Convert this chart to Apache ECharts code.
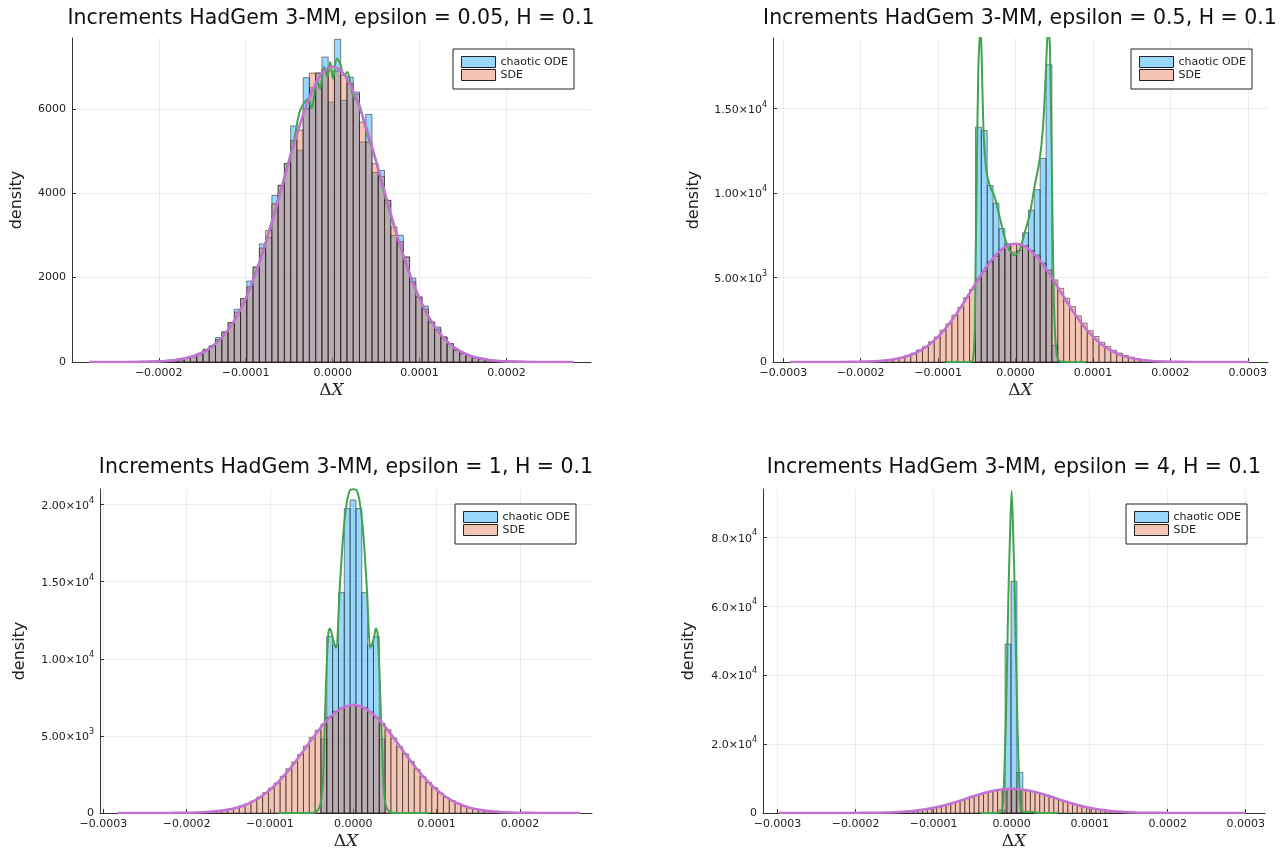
<!DOCTYPE html>
<html>
<head>
<meta charset="utf-8">
<script src="https://cdn.jsdelivr.net/npm/echarts@6.0.0/dist/echarts.min.js"></script>
<style>
html,body{margin:0;padding:0;background:#ffffff;}
#chart{width:1285px;height:854px;}
</style>
</head>
<body>
<div id="chart"></div>
<script>
// ---------------- texts ----------------
const panelTitles = [
  'Increments HadGem 3-MM, epsilon = 0.05, H = 0.1',
  'Increments HadGem 3-MM, epsilon = 0.5, H = 0.1',
  'Increments HadGem 3-MM, epsilon = 1, H = 0.1',
  'Increments HadGem 3-MM, epsilon = 4, H = 0.1'
];
const legendNames = ['chaotic ODE', 'SDE'];
const yAxisTitle = 'density';

// ---------------- ticks / extents ----------------
const p1XTicks = [-0.0002, -0.0001, 0, 0.0001, 0.0002];
const p2XTicks = [-0.0003, -0.0002, -0.0001, 0, 0.0001, 0.0002, 0.0003];
const p3XTicks = [-0.0003, -0.0002, -0.0001, 0, 0.0001, 0.0002];
const p4XTicks = [-0.0003, -0.0002, -0.0001, 0, 0.0001, 0.0002, 0.0003];
const p1YTicks = [0, 2000, 4000, 6000];
const p2YTicks = [0, 5000, 10000, 15000];
const p3YTicks = [0, 5000, 10000, 15000, 20000];
const p4YTicks = [0, 20000, 40000, 60000, 80000];
const xExtents = [[-0.0002998, 0.0002972], [-0.0003133, 0.0003261], [-0.000304, 0.0002865], [-0.0003186, 0.0003247]];
const yMaxima = [7680, 19180, 21010, 93990];

// ---------------- panel 1 : epsilon = 0.05 ----------------
const p1OdeStart = -0.0002283, p1OdeWidth = 0.0000072;
const p1Ode = [1,2,4,7,12,20,35,55,90,130,198,300,380,578,712,933,1249,1502,1920,2252,2800,2950,3950,4188,4702,5593,5020,6740,6500,6850,7229,6160,7648,6200,6755,6400,5214,5870,4490,4543,3832,3000,3003,2489,1991,1541,1327,948,830,593,436,277,198,150,100,65,40,25,15,9,5,3,1,1];
const p1SdeStart = -0.0002283, p1SdeWidth = 0.0000072;
const p1Sde = [1,2,3,6,11,20,33,52,85,125,190,290,380,530,712,933,1180,1502,1780,2252,2700,3120,3750,4188,4702,5250,5500,6005,6850,6850,6930,6900,6900,6800,6600,6350,5688,5214,4700,4400,3832,3200,2850,2489,1900,1541,1250,948,780,593,436,277,198,145,95,60,38,24,14,8,5,3,1,1];
const p1KdeOdeX = [-0.00028,-0.00026,-0.00022,-0.0002,-0.00018,-0.00016,-0.00014,-0.00012,-0.0001,-0.00008,-0.00006,-0.00005,-0.0000437,-0.0000374,-0.0000278,-0.000024,-0.0000182,-0.0000144,-0.0000098,-0.000006,-0.0000029,0.0000005,0.0000048,0.0000086,0.0000132,0.000017,0.000021,0.000024,0.0000297,0.0000355,0.00004,0.00005,0.00006,0.00008,0.0001,0.00012,0.00014,0.00016,0.00018,0.0002,0.00022,0.00026,0.000277];
const p1KdeOdeY = [0,0,4,16,52,145,355,770,1510,2650,4060,4800,5330,5965,6242,6005,6676,6479,6992,6755,7110,6716,7190,7072,6795,6873,6558,6282,6162,5728,5400,4750,3950,2600,1500,760,345,140,50,15,4,0,0];

// ---------------- panel 2 : epsilon = 0.5 ----------------
const p2OdeStart = -0.0000518, p2OdeWidth = 0.0000076;
const p2Ode = [13900,13700,10450,9400,7900,7000,6500,6600,7650,8990,10200,12050,17600,990];
const p2SdeStart = -0.0002494, p2SdeWidth = 0.0000076;
const p2Sde = [1,2,3,5,7,12,19,30,45,64,99,138,205,277,395,520,712,905,1195,1480,1880,2260,2780,3230,3820,4300,4920,5370,5930,6260,6660,6830,7010,6960,6890,6600,6330,5850,5440,4860,4360,3770,3280,2730,2300,1850,1510,1170,925,695,530,385,285,198,143,95,67,43,29,19,12,7,5,3,2,1];
const p2KdeOdeX = [-0.00009,-0.00007,-0.000058,-0.000055,-0.000053,-0.0000516,-0.00005,-0.000048,-0.000046,-0.000045,-0.000043,-0.000041,-0.0000378,-0.0000335,-0.0000271,-0.0000206,-0.0000142,-0.0000077,-0.0000013,0.0000052,0.0000116,0.0000181,0.0000245,0.000031,0.0000352,0.0000387,0.0000412,0.0000428,0.0000445,0.0000468,0.0000494,0.0000525,0.0000568,0.00007,0.00009];
const p2KdeOdeY = [0,0,20,150,1500,5500,11500,17500,19400,19600,16500,13300,11360,10470,9780,8590,7400,6620,6320,6620,7620,8690,10370,11950,13730,16690,19300,19600,18500,11770,3850,690,50,0,0];

// ---------------- panel 3 : epsilon = 1 ----------------
const p3OdeStart = -0.0000388, p3OdeWidth = 0.000007;
const p3Ode = [4800,11450,10900,14290,19740,20300,19740,14290,10900,11450,4800];
const p3SdeStart = -0.0002418, p3SdeWidth = 0.000007;
const p3Sde = [1,2,3,5,8,13,19,29,44,64,95,132,184,248,348,478,615,790,1026,1320,1611,1950,2380,2870,3316,3800,4338,4900,5357,5760,6221,6600,6801,6910,7040,6952,6840,6553,6180,5817,5400,4859,4300,3836,3350,2833,2350,1972,1640,1296,1010,801,630,466,340,255,184,132,92,64,44,29,19,13,8,5,3,2,1,1];
const p3KdeOdeX = [-0.00009,-0.000052,-0.000046,-0.00004,-0.0000368,-0.0000352,-0.000034,-0.0000328,-0.0000312,-0.0000296,-0.000028,-0.0000245,-0.0000208,-0.000016,-0.000012,-0.000008,-0.000004,0,0.000004,0.000008,0.000012,0.000016,0.0000208,0.0000245,0.0000272,0.000029,0.0000304,0.000032,0.0000332,0.0000348,0.0000364,0.0000392,0.0000448,0.000052,0.00009];
const p3KdeOdeY = [0,0,30,457,1765,3940,6120,8300,10480,11790,11960,11300,10700,14840,18100,20065,20935,21000,20935,20065,18100,14840,10700,11300,11960,11700,10480,8300,6120,3940,1765,457,30,0,0];

// ---------------- panel 4 : epsilon = 4 ----------------
const p4OdeStart = -0.000016, p4OdeWidth = 0.0000076;
const p4Ode = [950,49000,67200,11800,300];
const p4SdeStart = -0.000252, p4SdeWidth = 0.000006;
const p4Sde = [0,1,1,2,3,4,6,10,14,21,28,41,55,80,104,146,188,258,322,431,534,695,840,1068,1270,1572,1825,2210,2520,2975,3330,3840,4210,4730,5090,5580,5880,6290,6510,6800,6880,7030,
               6960,6930,6730,6570,6220,5950,5500,5160,4660,4280,3770,3390,2910,2580,2150,1870,1530,1300,1035,865,672,550,416,336,246,195,139,108,76,57,39,30,19,14,9,7,4,3,2,1,1,0];
const p4KdeOdeX = [-0.00004,-0.00002,-0.000015,-0.0000128,-0.0000107,-0.0000073,-0.0000043,-0.0000021,0,0.0000021,0.0000043,0.0000073,0.0000107,0.000013,0.000016,0.000024,0.000032,0.00004,0.00006];
const p4KdeOdeY = [0,0,100,600,3350,27460,61160,80430,93400,80430,61160,27460,3350,600,300,350,100,0,0];

// ---------------- SDE density curve (same in all panels) ----------------
const kdeSdeX = [-0.0003,-0.00028,-0.00026,-0.00024,-0.00022,-0.0002,-0.00018,-0.00016,-0.00015,-0.00014,-0.00013,-0.00012,-0.00011,-0.0001,-0.00009,-0.00008,-0.00007,-0.00006,-0.00005,-0.00004,-0.00003,-0.00002,-0.00001,0,0.00001,0.00002,0.00003,0.00004,0.00005,0.00006,0.00007,0.00008,0.00009,0.0001,0.00011,0.00012,0.00013,0.00014,0.00015,0.00016,0.00018,0.0002,0.00022,0.00024,0.00026,0.00028,0.0003];
const kdeSdeY = [0,0,0,1,4,15,48,136,220,343,520,764,1087,1503,2012,2615,3292,4022,4764,5471,6095,6582,6893,7000,6893,6582,6095,5471,4764,4022,3292,2615,2012,1503,1087,764,520,343,220,136,48,15,4,1,0,0,0];
const kdeSdeRanges = [[-0.00028, 0.000277], [-0.000291, 0.000302], [-0.000283, 0.000272], [-0.000298, 0.0003]];

// ---------------- styles ----------------
const odeFill = 'rgba(0,154,250,0.4)';
const sdeFill = 'rgba(227,111,71,0.4)';
const odeLegendFill = 'rgb(153,215,253)';
const sdeLegendFill = 'rgb(244,197,181)';
const barStroke = 'rgba(20,20,20,0.5)';
const greenLine = '#3ea44e';
const purpleLine = '#c371d2';
const FONT = 'DejaVu Sans';

const layout = [
  {grid: {left: 72, top: 38, width: 519, height: 324}, titleX: 331, titleY: 19, legendRight: 711, legendTop: 49, yGap: 47, yFmt: 'plain'},
  {grid: {left: 773, top: 38, width: 495, height: 324}, titleX: 1020, titleY: 19, legendRight: 33, legendTop: 49, yGap: 71, yFmt: 'sci2'},
  {grid: {left: 100, top: 489, width: 492, height: 324}, titleX: 346, titleY: 468, legendRight: 709, legendTop: 504, yGap: 72, yFmt: 'sci2'},
  {grid: {left: 763, top: 489, width: 502, height: 324}, titleX: 1014, titleY: 468, legendRight: 38, legendTop: 504, yGap: 66, yFmt: 'sci1'}
];

const panelData = [
  {xt: p1XTicks, yt: p1YTicks, odeS: p1OdeStart, odeW: p1OdeWidth, ode: p1Ode, sdeS: p1SdeStart, sdeW: p1SdeWidth, sde: p1Sde, kx: p1KdeOdeX, ky: p1KdeOdeY},
  {xt: p2XTicks, yt: p2YTicks, odeS: p2OdeStart, odeW: p2OdeWidth, ode: p2Ode, sdeS: p2SdeStart, sdeW: p2SdeWidth, sde: p2Sde, kx: p2KdeOdeX, ky: p2KdeOdeY},
  {xt: p3XTicks, yt: p3YTicks, odeS: p3OdeStart, odeW: p3OdeWidth, ode: p3Ode, sdeS: p3SdeStart, sdeW: p3SdeWidth, sde: p3Sde, kx: p3KdeOdeX, ky: p3KdeOdeY},
  {xt: p4XTicks, yt: p4YTicks, odeS: p4OdeStart, odeW: p4OdeWidth, ode: p4Ode, sdeS: p4SdeStart, sdeW: p4SdeWidth, sde: p4Sde, kx: p4KdeOdeX, ky: p4KdeOdeY}
];

function binRows(start, width, heights) {
  return heights.map((h, i) => [start + i * width, start + (i + 1) * width, h]);
}
function pairs(xs, ys) { return xs.map((x, i) => [x, ys[i]]); }
function rangePairs(xs, ys, lo, hi) {
  const out = [[lo, 0]];
  xs.forEach((x, i) => { if (x > lo && x < hi) out.push([x, ys[i]]); });
  out.push([hi, 0]);
  return out;
}
function histRender(fill) {
  return function (params, api) {
    const h = api.value(2);
    if (!(h > 0)) return null;
    const a = api.coord([api.value(0), h]);
    const b = api.coord([api.value(1), 0]);
    const cs = params.coordSys;
    const shape = echarts.graphic.clipRectByRect(
      {x: a[0], y: a[1], width: b[0] - a[0], height: b[1] - a[1]},
      {x: cs.x, y: cs.y, width: cs.width, height: cs.height});
    if (!shape) return null;
    return {type: 'rect', shape: shape, style: {fill: fill, stroke: barStroke, lineWidth: 1}};
  };
}
function xFmt(v) {
  const s = Math.abs(v).toFixed(4);
  return (v < -1e-12 ? '\u2212' : '') + s;
}
function yFmtFactory(kind) {
  return function (v) {
    if (Math.abs(v) < 1e-9) return '0';
    if (kind === 'plain') return String(Math.round(v));
    const e = Math.floor(Math.log10(v) + 1e-9);
    const m = v / Math.pow(10, e);
    return '{m|' + m.toFixed(kind === 'sci2' ? 2 : 1) + '×10}{e|' + e + '}';
  };
}

const grids = [], xAxes = [], yAxes = [], series = [], legends = [], graphics = [];
layout.forEach((L, i) => {
  const P = panelData[i];
  grids.push(Object.assign({containLabel: false}, L.grid));
  xAxes.push({
    type: 'value', gridIndex: i, min: xExtents[i][0], max: xExtents[i][1],
    name: '{d|Δ}{x|X}', nameLocation: 'middle', nameGap: 20,
    nameTextStyle: {rich: {
      d: {fontFamily: 'DejaVu Serif', fontSize: 17, color: '#222'},
      x: {fontFamily: 'DejaVu Serif', fontStyle: 'italic', fontSize: 17, color: '#222'}
    }},
    axisLine: {show: true, onZero: false, lineStyle: {color: '#333', width: 1}},
    axisTick: {show: true, inside: true, length: 4, customValues: P.xt, lineStyle: {color: '#333'}},
    axisLabel: {customValues: P.xt, formatter: xFmt, fontSize: 11, color: '#222', fontFamily: FONT, margin: 6},
    splitLine: {show: true, lineStyle: {color: 'rgba(0,0,0,0.065)', width: 1}}
  });
  yAxes.push({
    type: 'value', gridIndex: i, min: 0, max: yMaxima[i],
    name: yAxisTitle, nameLocation: 'middle', nameGap: L.yGap,
    nameTextStyle: {fontSize: 16, color: '#222', fontFamily: FONT},
    axisLine: {show: true, onZero: false, lineStyle: {color: '#333', width: 1}},
    axisTick: {show: true, inside: true, length: 4, customValues: P.yt, lineStyle: {color: '#333'}},
    axisLabel: {customValues: P.yt, formatter: yFmtFactory(L.yFmt), fontSize: 11, color: '#222', fontFamily: FONT, margin: 6,
      rich: {
        m: {fontSize: 11, color: '#222', fontFamily: FONT, lineHeight: 14, verticalAlign: 'bottom'},
        e: {fontSize: 8, color: '#222', fontFamily: FONT, lineHeight: 8, verticalAlign: 'bottom', padding: [0, 0, 7, 0]}
      }},
    splitLine: {show: true, lineStyle: {color: 'rgba(0,0,0,0.065)', width: 1}}
  });
  series.push({
    type: 'custom', name: legendNames[0], xAxisIndex: i, yAxisIndex: i,
    renderItem: histRender(odeFill), data: binRows(P.odeS, P.odeW, P.ode),
    encode: {x: [0, 1], y: 2}, itemStyle: {color: odeLegendFill}, silent: true, z: 2
  });
  series.push({
    type: 'custom', name: legendNames[1], xAxisIndex: i, yAxisIndex: i,
    renderItem: histRender(sdeFill), data: binRows(P.sdeS, P.sdeW, P.sde),
    encode: {x: [0, 1], y: 2}, itemStyle: {color: sdeLegendFill}, silent: true, z: 2
  });
  series.push({
    type: 'line', name: 'ODE density', xAxisIndex: i, yAxisIndex: i,
    data: pairs(P.kx, P.ky), showSymbol: false, smooth: 0.3, clip: true,
    lineStyle: {color: greenLine, width: 2}, itemStyle: {color: greenLine}, z: 3, silent: true
  });
  series.push({
    type: 'line', name: 'SDE density', xAxisIndex: i, yAxisIndex: i,
    data: rangePairs(kdeSdeX, kdeSdeY, kdeSdeRanges[i][0], kdeSdeRanges[i][1]),
    showSymbol: false, smooth: 0.4, clip: true,
    lineStyle: {color: purpleLine, width: 2.6}, itemStyle: {color: purpleLine}, z: 4, silent: true
  });
  legends.push({
    orient: 'vertical', right: L.legendRight, top: L.legendTop,
    itemWidth: 34, itemHeight: 11, itemGap: 1, icon: 'rect',
    backgroundColor: '#ffffff', borderColor: '#222', borderWidth: 1, padding: [7, 6, 8, 8],
    selectedMode: false,
    textStyle: {fontSize: 11, color: '#222', fontFamily: FONT, lineHeight: 12},
    data: [
      {name: legendNames[0], itemStyle: {color: odeLegendFill, borderColor: '#222', borderWidth: 1}},
      {name: legendNames[1], itemStyle: {color: sdeLegendFill, borderColor: '#222', borderWidth: 1}}
    ]
  });
  graphics.push({
    type: 'text', x: L.titleX, y: L.titleY, silent: true,
    style: {text: panelTitles[i], fill: '#111', font: '20.5px "DejaVu Sans"', align: 'center', verticalAlign: 'middle', textAlign: 'center', textVerticalAlign: 'middle'}
  });
});

const chart = echarts.init(document.getElementById('chart'), null, {renderer: 'canvas'});
chart.setOption({
  animation: false,
  backgroundColor: '#ffffff',
  textStyle: {fontFamily: FONT},
  grid: grids, xAxis: xAxes, yAxis: yAxes, series: series, legend: legends, graphic: graphics
});
</script>
</body>
</html>
